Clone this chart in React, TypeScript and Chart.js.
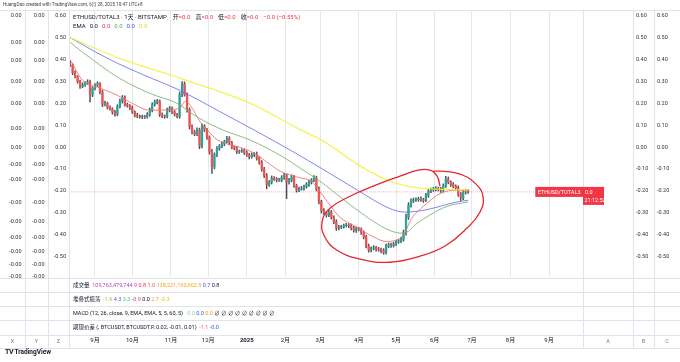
import React, { useEffect, useRef } from "react";
import { Chart, registerables } from "chart.js";

Chart.register(...registerables);

// ---- time axis (day 0 = 2024-08-01) ----
const firstDay = 11; // first candle: 2024-08-12
const stepDays = 2;
const firstOpen = 0.385;
const xMin = 10.1;
const xMax = 423.3;

const monthTickDays = [31, 61, 92, 122, 153, 184, 212, 243, 273, 304, 334, 365, 396];
const monthTickLabels = ["9月", "10月", "11月", "12月", "2025", "2月", "3月", "4月", "5月", "6月", "7月", "8月", "9月"];

// ---- price series (2-day candles) ----
const closes = [
  0.375, 0.34, 0.322, 0.3, 0.278, 0.285, 0.292, 0.298, 0.24, 0.27,
  0.283, 0.29, 0.252, 0.195, 0.2, 0.182, 0.175, 0.16, 0.15, 0.185,
  0.21, 0.228, 0.195, 0.19, 0.18, 0.16, 0.146, 0.142, 0.138, 0.14,
  0.138, 0.15, 0.17, 0.195, 0.205, 0.21, 0.15, 0.142, 0.14, 0.17,
  0.178, 0.16, 0.15, 0.14, 0.24, 0.288, 0.24, 0.17, 0.095, 0.07,
  0.06, 0.078, 0.005, 0.095, 0.08, 0.045, -0.02, -0.09, -0.035, -0.005,
  0.005, 0.015, 0.025, 0.04, 0.02, 0.0, -0.005, -0.02, -0.018, -0.014,
  -0.025, -0.035, -0.044, -0.035, -0.03, -0.05, -0.07, -0.1, -0.13, -0.17,
  -0.16, -0.14, -0.145, -0.15, -0.15, -0.14, -0.128, -0.16, -0.15, -0.135,
  -0.175, -0.196, -0.19, -0.188, -0.18, -0.17, -0.16, -0.15, -0.14, -0.19,
  -0.25, -0.29, -0.3, -0.31, -0.296, -0.32, -0.34, -0.37, -0.365, -0.362,
  -0.358, -0.355, -0.358, -0.37, -0.38, -0.372, -0.375, -0.39, -0.41, -0.45,
  -0.47, -0.462, -0.458, -0.465, -0.467, -0.472, -0.48, -0.452, -0.445, -0.448,
  -0.44, -0.432, -0.428, -0.42, -0.39, -0.32, -0.265, -0.245, -0.24, -0.238,
  -0.236, -0.24, -0.242, -0.22, -0.2, -0.195, -0.19, -0.188, -0.192, -0.196,
  -0.175, -0.145, -0.16, -0.17, -0.178, -0.185, -0.215, -0.232, -0.205, -0.2,
  -0.204,
];
// wick lengths beyond the body, in thousandths
const upperWicks = [
  10, 6, 8, 5, 6, 9, 7, 10, 8, 6,
  7, 9, 5, 8, 10, 6, 7, 5, 8, 9,
  10, 8, 6, 7, 5, 8, 6, 9, 5, 7,
  6, 8, 9, 7, 10, 8, 6, 7, 5, 9,
  8, 6, 7, 5, 12, 12, 10, 8, 9, 7,
  8, 10, 9, 12, 8, 6, 7, 10, 9, 8,
  7, 9, 6, 10, 8, 7, 6, 9, 5, 7,
  6, 8, 7, 9, 6, 8, 7, 9, 8, 10,
  8, 9, 6, 7, 8, 10, 9, 7, 8, 9,
  7, 6, 8, 9, 7, 8, 9, 7, 10, 8,
  9, 8, 10, 7, 9, 8, 7, 9, 8, 6,
  7, 8, 6, 7, 9, 8, 6, 7, 8, 9,
  8, 7, 9, 6, 8, 7, 9, 10, 8, 7,
  6, 8, 7, 9, 12, 15, 12, 9, 8, 7,
  8, 9, 7, 10, 8, 9, 7, 8, 6, 9,
  8, 12, 9, 7, 8, 6, 9, 8, 10, 8,
  6,
];
const lowerWicks = [
  7, 9, 6, 8, 10, 7, 8, 6, 33, 9,
  8, 6, 9, 10, 7, 8, 6, 9, 8, 7,
  6, 9, 8, 7, 9, 6, 8, 7, 6, 8,
  7, 6, 8, 9, 7, 8, 10, 7, 8, 6,
  9, 7, 8, 6, 8, 9, 7, 10, 12, 9,
  8, 7, 12, 8, 9, 10, 12, 30, 9, 8,
  9, 7, 8, 6, 9, 8, 7, 9, 8, 6,
  8, 7, 9, 6, 8, 9, 7, 10, 9, 20,
  9, 8, 7, 9, 6, 8, 7, 75, 9, 8,
  8, 9, 7, 6, 8, 7, 9, 8, 7, 10,
  9, 10, 8, 9, 7, 8, 9, 10, 8, 7,
  8, 6, 9, 7, 8, 9, 7, 8, 9, 10,
  9, 8, 7, 9, 8, 10, 9, 8, 7, 9,
  8, 9, 7, 8, 9, 12, 10, 9, 8, 7,
  9, 8, 10, 7, 9, 8, 7, 9, 8, 10,
  9, 8, 7, 9, 8, 9, 10, 12, 8, 9,
  7,
];

// ---- EMA lines: [day, value] ----
const ema20 = [
  [11, 0.4], [21, 0.306], [35, 0.27], [49, 0.237], [61, 0.2], [75, 0.169], [91, 0.17], [99, 0.18],
  [104, 0.21], [110, 0.17], [115, 0.12], [121, 0.08], [129, 0.035], [140, 0.01], [147, 0.0],
  [160, -0.03], [169, -0.067], [180, -0.11], [196, -0.14], [205, -0.155], [214, -0.22], [228, -0.32],
  [240, -0.36], [255, -0.41], [265, -0.43], [273, -0.425], [280, -0.39], [285, -0.33], [295, -0.27],
  [309, -0.21], [322, -0.196], [331, -0.205],
];
const ema50 = [
  [11, 0.48], [15, 0.46], [29, 0.4], [49, 0.32], [75, 0.246], [97, 0.2], [113, 0.138], [134, 0.078],
  [156, 0.032], [182, -0.044], [196, -0.096], [214, -0.164], [242, -0.288], [268, -0.38], [279, -0.393],
  [290, -0.347], [300, -0.31], [314, -0.27], [331, -0.25],
];
const ema100 = [
  [11, 0.5], [43, 0.4], [70, 0.33], [99, 0.26], [129, 0.17], [160, 0.075], [190, -0.02], [214, -0.1],
  [242, -0.196], [268, -0.28], [280, -0.296], [295, -0.288], [322, -0.25], [331, -0.242],
];
const ema200 = [
  [11, 0.5], [51, 0.405], [102, 0.31], [156, 0.2], [196, 0.08], [214, 0.03], [244, -0.085],
  [268, -0.155], [282, -0.178], [295, -0.188], [331, -0.196],
];

// ---- hand-drawn red loop annotation: [day, value] ----
const loopPath = [
  [308.4, -0.178], [306, -0.132], [300.3, -0.105], [290.7, -0.105], [276.2, -0.132], [256.1, -0.174],
  [236, -0.224], [219.9, -0.279], [213.5, -0.342], [215.9, -0.411], [225.6, -0.47], [244.1, -0.511],
  [268.2, -0.525], [292.3, -0.497], [312.4, -0.451], [330.1, -0.369], [340.5, -0.296], [342.9, -0.224],
  [336.5, -0.164], [324.5, -0.123], [312.4, -0.11], [301.9, -0.11],
];

// ---- axes ----
const yMin = -0.5924;
const yMax = 0.6262;
const priceTicks = [0.6, 0.5, 0.4, 0.3, 0.2, 0.1, 0.0, -0.1, -0.2, -0.3, -0.4, -0.5];
const priceTickLabels = ["0.60", "0.50", "0.40", "0.30", "0.20", "0.10", "0.00", "-0.10", "-0.20", "-0.30", "-0.40", "-0.50"];
const extraTicks = [0.599, 0.476, 0.397, 0.301, 0.201, 0.087, 0.0, -0.078, -0.146, -0.254, -0.341, -0.414, -0.475, -0.534, -0.589];
const extraTickLabels = ["0.00", "0.00", "0.00", "0.00", "0.00", "0.00", "0.00", "-0.00", "-0.00", "-0.00", "-0.00", "-0.00", "-0.00", "-0.00", "-0.00"];

const FONT = "Roboto, 'Noto Sans CJK SC', 'Noto Sans', sans-serif";
const TEXT = "#131722";
const UP = "#26a69a";
const DOWN = "#ef5350";
const WICK = "#4a4d57";
const LINE = "#e0e3eb";

const paneSeparators = [0.5, 15, 29, 43, 57.5, 71]; // below the main pane

const decorPlugin = {
  id: "decor",
  afterDraw(chart: any) {
    const ctx = chart.ctx;
    const ca = chart.chartArea;
    const s = chart.scales;
    ctx.save();
    ctx.strokeStyle = LINE;
    ctx.lineWidth = 1;
    const bottom = ca.bottom + paneSeparators[paneSeparators.length - 1];
    const ys = [ca.top - 0.5, ...paneSeparators.map((o) => ca.bottom + o)];
    ys.forEach((y) => {
      ctx.beginPath();
      ctx.moveTo(0, Math.round(y) + 0.5);
      ctx.lineTo(chart.width, Math.round(y) + 0.5);
      ctx.stroke();
    });
    const xs = [s.yX.right, s.yY.right, s.y.right, s.yA.left, s.yB.left, s.yC.left];
    xs.forEach((x) => {
      ctx.beginPath();
      ctx.moveTo(Math.round(x) + 0.5, ca.top - 0.5);
      ctx.lineTo(Math.round(x) + 0.5, bottom);
      ctx.stroke();
    });
    ctx.fillStyle = "#787b86";
    ctx.font = `5.5px ${FONT}`;
    ctx.textAlign = "center";
    ctx.textBaseline = "middle";
    const rowY = ca.bottom + (paneSeparators[4] + paneSeparators[5]) / 2;
    const cols: [any, string][] = [[s.yX, "X"], [s.yY, "Y"], [s.y, "Z"], [s.yA, "A"], [s.yB, "B"], [s.yC, "C"]];
    cols.forEach(([sc, t]) => ctx.fillText(t, (sc.left + sc.right) / 2, rowY));

    const last = closes[closes.length - 1];
    const py = s.y.getPixelForValue(last);
    ctx.font = `5.5px ${FONT}`;
    const name = "ETHUSD/TOTAL3";
    const w = ctx.measureText(name).width + 5;
    ctx.fillStyle = "#f23645";
    ctx.fillRect(ca.right - w, py - 5, w, 10);
    ctx.fillRect(ca.right, py - 5, 21, 18);
    ctx.fillStyle = "#ffffff";
    ctx.textAlign = "left";
    ctx.fillText(name, ca.right - w + 2.5, py + 0.5);
    ctx.fillText("0.0", ca.right + 2, py + 0.5);
    ctx.fillText("21:12:52", ca.right + 1.5, py + 8.5);
    ctx.restore();
  },
};

function fixedWidth(w: number) {
  return (scale: any) => {
    scale.width = w;
  };
}

function Span({ c, children, gap }: { c?: string; children: React.ReactNode; gap?: number }) {
  return <span style={{ color: c, marginLeft: gap ?? 0 }}>{children}</span>;
}

export default function App() {
  const ref = useRef<HTMLCanvasElement>(null);

  useEffect(() => {
    const canvas = ref.current;
    if (!canvas) return;
    const candleX = closes.map((_, i) => firstDay + i * stepDays);
    const opens = closes.map((_, i) => (i === 0 ? firstOpen : closes[i - 1]));
    const bodies = closes.map((c, i) => ({ x: candleX[i], y: [opens[i], c] }));
    const wicks = closes.map((c, i) => ({
      x: candleX[i],
      y: [Math.min(opens[i], c) - lowerWicks[i] / 1000, Math.max(opens[i], c) + upperWicks[i] / 1000],
    }));
    const bodyColors = closes.map((c, i) => (c >= opens[i] ? UP : DOWN));
    const toXY = (arr: number[][]) => arr.map(([x, y]) => ({ x, y }));
    const lastClose = closes[closes.length - 1];

    const emaDs = (data: number[][], color: string, order: number, width = 1) => ({
      type: "line" as const,
      data: toXY(data),
      borderColor: color,
      borderWidth: width,
      pointRadius: 0,
      cubicInterpolationMode: "monotone" as const,
      order,
    });

    const yBase = {
      type: "linear" as const,
      min: yMin,
      max: yMax,
      grid: { display: false, drawTicks: false },
      border: { display: false },
    };

    const chart = new Chart(canvas, {
      type: "bar",
      data: {
        datasets: [
          {
            type: "line",
            data: toXY(loopPath),
            borderColor: "#e3262f",
            borderWidth: 1.3,
            pointRadius: 0,
            tension: 0.45,
            order: 0,
          } as any,
          emaDs(ema200, "rgba(245,240,55,0.85)", 1, 1.3),
          emaDs(ema100, "rgba(110,110,235,0.85)", 2),
          emaDs(ema50, "rgba(120,175,110,0.85)", 3),
          emaDs(ema20, "rgba(240,110,110,0.85)", 4),
          {
            type: "bar",
            data: bodies,
            backgroundColor: bodyColors,
            borderWidth: 0,
            barThickness: 1.6,
            minBarLength: 0.8,
            grouped: false,
            order: 5,
          } as any,
          {
            type: "bar",
            data: wicks,
            backgroundColor: WICK,
            borderWidth: 0,
            barThickness: 0.8,
            grouped: false,
            order: 6,
          } as any,
          {
            type: "line",
            data: [
              { x: xMin, y: lastClose },
              { x: xMax, y: lastClose },
            ],
            borderColor: "rgba(242,54,69,0.4)",
            borderWidth: 1,
            borderDash: [1, 1],
            pointRadius: 0,
            order: 7,
          } as any,
        ],
      },
      options: {
        animation: false,
        responsive: false,
        devicePixelRatio: 1,
        events: [],
        layout: { padding: { top: 10, bottom: 15, left: 0, right: 0 } },
        plugins: { legend: { display: false }, tooltip: { enabled: false } },
        scales: {
          x: {
            type: "linear",
            position: "bottom",
            offset: false,
            min: xMin,
            max: xMax,
            afterBuildTicks: (scale: any) => {
              scale.ticks = monthTickDays.map((v) => ({ value: v }));
            },
            afterFit: (scale: any) => {
              scale.height = 70;
            },
            ticks: {
              autoSkip: false,
              maxRotation: 0,
              padding: 60,
              color: TEXT,
              font: (ctx: any) => ({ size: 6, family: FONT, weight: ctx.index === 4 ? "bold" : "normal" }),
              callback: (_v: any, i: number) => monthTickLabels[i],
            },
            grid: { color: "#e4e7ee", drawTicks: false, offset: false },
            border: { display: false },
          },
          y: {
            ...yBase,
            position: "left",
            weight: 1,
            afterFit: fixedWidth(21),
            afterBuildTicks: (scale: any) => {
              scale.ticks = priceTicks.map((v) => ({ value: v }));
            },
            ticks: {
              autoSkip: false,
              padding: 3,
              color: "#333",
              font: { size: 5.5, family: FONT },
              callback: (_v: any, i: number) => priceTickLabels[i],
            },
          },
          yY: {
            ...yBase,
            position: "left",
            weight: 2,
            afterFit: fixedWidth(23),
            afterBuildTicks: (scale: any) => {
              scale.ticks = extraTicks.map((v) => ({ value: v }));
            },
            ticks: {
              autoSkip: false,
              padding: 3.5,
              color: "#333",
              font: { size: 5.5, family: FONT },
              callback: (_v: any, i: number) => extraTickLabels[i],
            },
          },
          yX: {
            ...yBase,
            position: "left",
            weight: 3,
            afterFit: fixedWidth(25),
            afterBuildTicks: (scale: any) => {
              scale.ticks = extraTicks.map((v) => ({ value: v }));
            },
            ticks: {
              autoSkip: false,
              padding: 3.5,
              color: "#333",
              font: { size: 5.5, family: FONT },
              callback: (_v: any, i: number) => extraTickLabels[i],
            },
          },
          yA: {
            ...yBase,
            position: "right",
            weight: 1,
            afterFit: fixedWidth(50),
            ticks: { display: false },
          },
          yB: {
            ...yBase,
            position: "right",
            weight: 2,
            afterFit: fixedWidth(21),
            afterBuildTicks: (scale: any) => {
              scale.ticks = priceTicks.map((v) => ({ value: v }));
            },
            ticks: {
              autoSkip: false,
              padding: 3,
              color: "#333",
              font: { size: 5.5, family: FONT },
              callback: (_v: any, i: number) => priceTickLabels[i],
            },
          },
          yC: {
            ...yBase,
            position: "right",
            weight: 3,
            afterFit: fixedWidth(26),
            afterBuildTicks: (scale: any) => {
              scale.ticks = priceTicks.map((v) => ({ value: v }));
            },
            ticks: {
              autoSkip: false,
              padding: 3,
              color: "#333",
              font: { size: 5.5, family: FONT },
              callback: (_v: any, i: number) => priceTickLabels[i],
            },
          },
        },
      } as any,
      plugins: [decorPlugin],
    });
    return () => chart.destroy();
  }, []);

  const row: React.CSSProperties = {
    position: "absolute",
    left: 73,
    fontSize: 5.5,
    lineHeight: "7px",
    whiteSpace: "nowrap",
    color: TEXT,
  };
  const RED = "#f23645";

  return (
    <div
      style={{
        position: "fixed",
        left: 0,
        top: 0,
        width: 680,
        height: 362,
        background: "#ffffff",
        overflow: "hidden",
        fontFamily: FONT,
      }}
    >
      <canvas ref={ref} width={680} height={362} style={{ position: "absolute", left: 0, top: 0, width: 680, height: 362 }} />
      <div style={{ position: "absolute", left: 3, top: 2, fontSize: 4.6, lineHeight: "6px", color: "#444", whiteSpace: "nowrap" }}>
        HuangDao created with TradingView.com, 6月 28, 2025 10:47 UTC+8
      </div>
      <div style={{ ...row, top: 12.5, fontSize: 6 }}>
        ETHUSD/TOTAL3 · 1天 · BITSTAMP
        <Span gap={6}>开</Span>
        <Span c={RED}>=0.0</Span>
        <Span gap={5}>高</Span>
        <Span c={RED}>=0.0</Span>
        <Span gap={5}>低</Span>
        <Span c={RED}>=0.0</Span>
        <Span gap={5}>收</Span>
        <Span c={RED}>=0.0</Span>
        <Span c={RED} gap={5}>−0.0 (−0.55%)</Span>
      </div>
      <div style={{ ...row, top: 21.5, fontSize: 6 }}>
        EMA
        <Span gap={4}>0.0</Span>
        <Span c={RED} gap={4}>0.0</Span>
        <Span c="#4caf50" gap={4}>0.0</Span>
        <Span c="#3d4fe0" gap={4}>0.0</Span>
        <Span c="#e6d92a" gap={4}>0.0</Span>
      </div>
      <div style={{ ...row, top: 281.5 }}>
        成交量&nbsp; <Span c="#b04cc0">109,763,479,744.9</Span> <Span c={RED}>0.8</Span> <Span c="#f0506e">1.0</Span>{" "}
        <Span c="#f5a623">138,221,190,902.5</Span> <Span c="#2962ff">0.7</Span> 0.8
      </div>
      <div style={{ ...row, top: 295.5 }}>
        堆叠式振荡&nbsp; <Span c="#c9b03a">-1.6</Span> <Span c="#5b5bd6">4.3</Span> <Span c="#3fcf7a">3.3</Span>{" "}
        <Span c="#e0457b">-0.9</Span> 0.0 <Span c="#f59f1a">2.7</Span> <Span c="#d9c02a">-3.3</Span>
      </div>
      <div style={{ ...row, top: 309.5 }}>
        MACD (12, 26, close, 9, EMA, EMA, 5, 5, 60, 5)&nbsp; <Span c="#8fd4d4">-0.0</Span> <Span c="#2962ff">0.0</Span>{" "}
        <Span c="#ff9800">0.0</Span> ∅ ∅ ∅ ∅ ∅ ∅ ∅ ∅ ∅
      </div>
      <div style={{ ...row, top: 323.5 }}>
        期现价差 (, BTCUSDT, BTCUSDT.P, 0.02, -0.01, 0.01)&nbsp; <Span c="#f06292">-1.1</Span>{" "}
        <Span c="#2962ff">-0.0</Span>
      </div>
      <div
        style={{
          position: "absolute",
          left: 5,
          top: 348,
          fontSize: 6.5,
          lineHeight: "9px",
          fontWeight: "bold",
          color: TEXT,
          whiteSpace: "nowrap",
        }}
      >
        <span style={{ fontSize: 7, letterSpacing: -0.5 }}>TV</span> TradingView
      </div>
    </div>
  );
}
